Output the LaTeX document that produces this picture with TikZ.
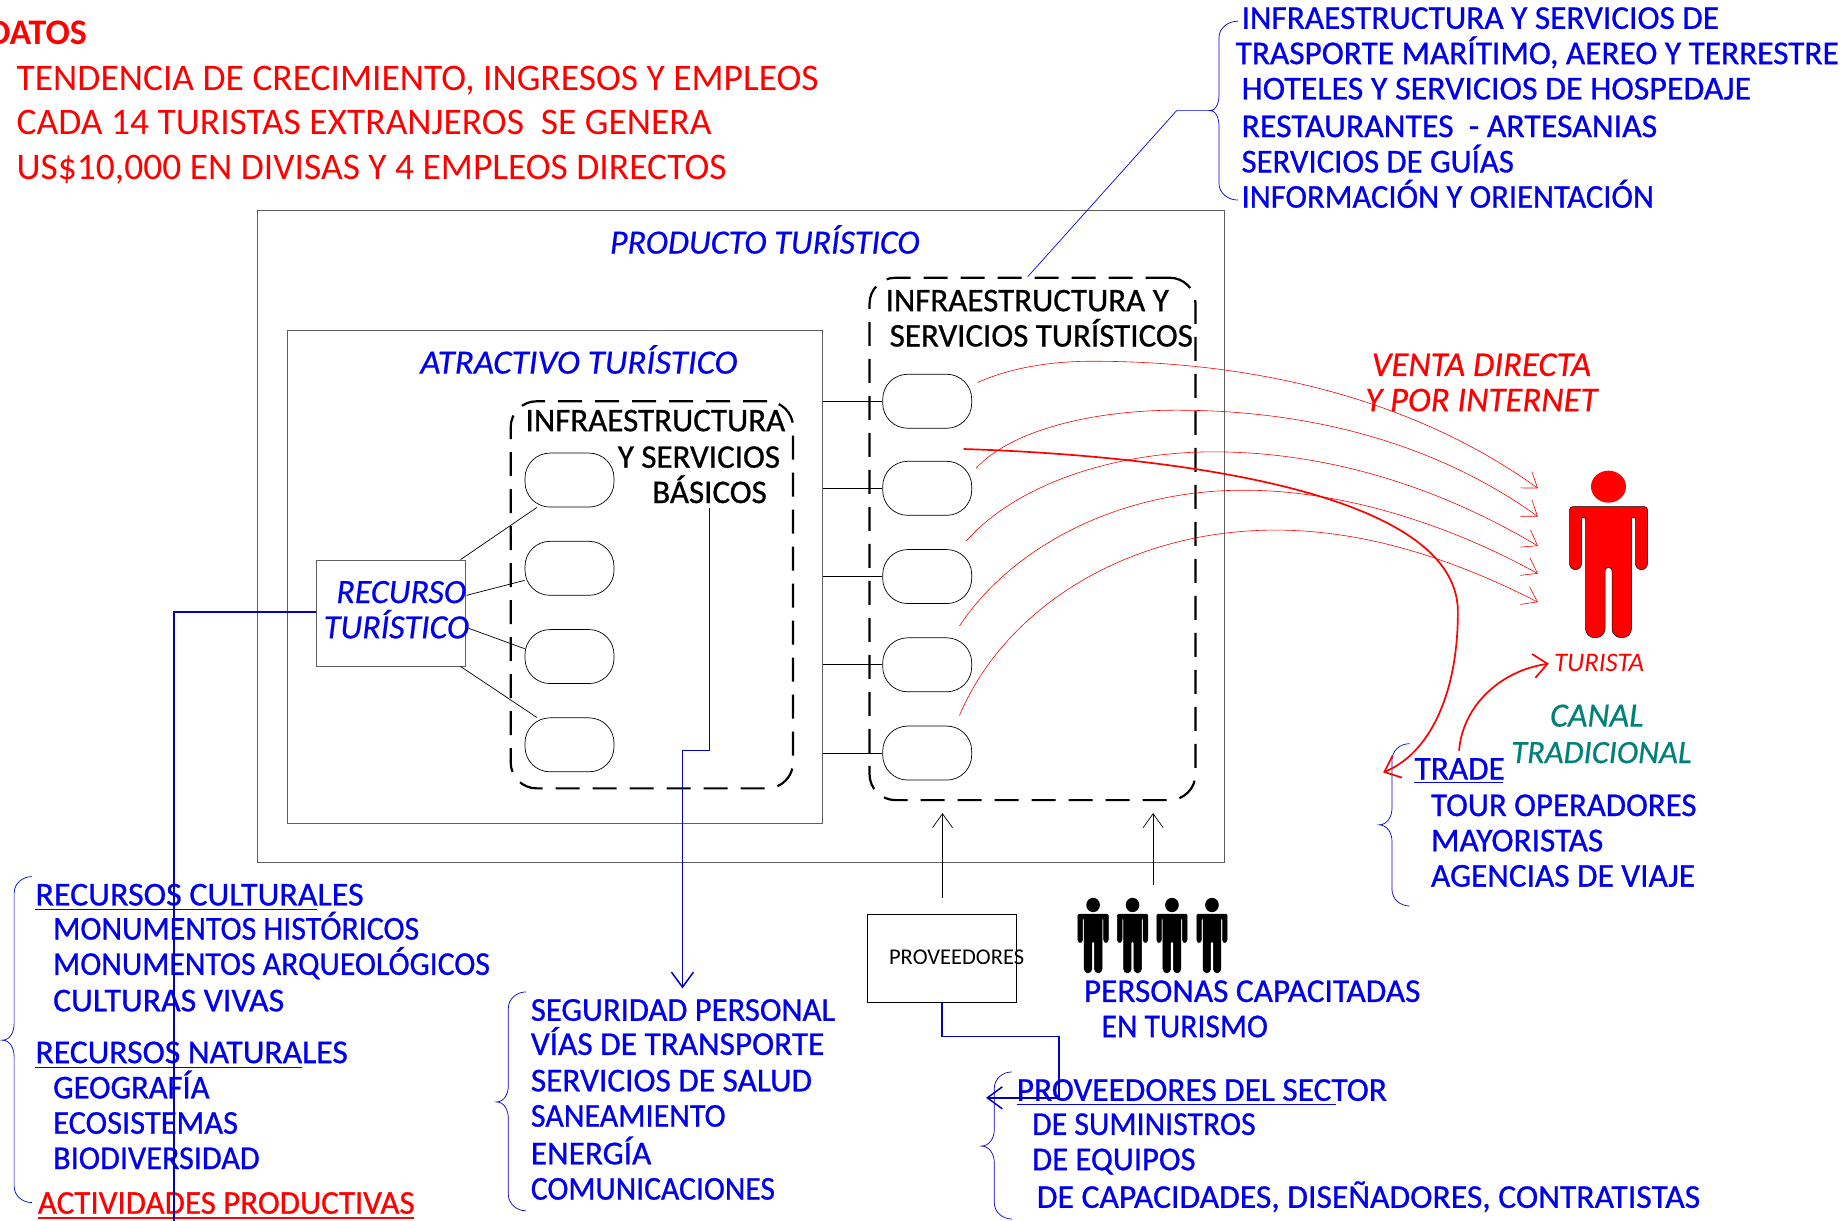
\documentclass[tikz,border=0pt]{standalone}
\usepackage{fontspec}
\setmainfont{Carlito}
\newfontfamily\bluefont[FakeBold=0.8]{Carlito}
\newfontfamily\ifont[FakeBold=0.5]{Carlito}
\usetikzlibrary{positioning}
\usetikzlibrary{arrows.meta}
\definecolor{bluetxt}{RGB}{0,0,235}
\definecolor{blueln}{RGB}{0,0,190}
\definecolor{tealtxt}{RGB}{0,128,120}
\definecolor{boxgray}{RGB}{95,95,95}
% list brace: end x, spine x, tip x, top y, tip y, bottom y
\newcommand{\listbrace}[6]{
\draw[bracket] (#1,#4) to[out=180,in=90] (#2,{#4+14}) -- (#2,{#5-14}) to[out=-90,in=0] (#3,#5)
  to[out=0,in=90] (#2,{#5+14}) -- (#2,{#6-14}) to[out=-90,in=180] (#1,#6);
}
\begin{document}
\begin{tikzpicture}[x=1.1767pt,y=-1.1767pt,
box/.style={rectangle,draw=boxgray,line width=0.9pt,inner sep=0pt},
dashbox/.style={rectangle,draw=black,line width=2.2pt,rounded corners=26pt,dash pattern=on 24pt off 13pt,inner sep=0pt},
pill/.style={rectangle,draw=black,line width=0.7pt,rounded corners=25pt,minimum width=89pt,minimum height=54pt,inner sep=0pt},
lab/.style={inner sep=0pt,text height=20pt,text depth=0pt,anchor=west},
sq/.style={xscale=#1,transform shape},
item/.style={lab,text=bluetxt,font=\bluefont\fontsize{33.3}{33.3}\selectfont},
headred/.style={lab,text=red,font=\fontsize{37.5}{37.5}\selectfont},
title/.style={lab,anchor=center,text=bluetxt,font=\ifont\fontsize{34}{34}\selectfont\itshape},
dark/.style={lab,anchor=center,text=black,font=\bluefont\fontsize{33}{33}\selectfont},
bracket/.style={draw=blue!85!black,line width=0.7pt},
blueline/.style={draw=blueln,line width=1.5pt},
under/.style={draw=bluetxt,line width=0.8pt},
open/.style={-{Straight Barb[length=15pt,width=22pt]}},
redcurve/.style={draw=red,line width=0.6pt,-{Straight Barb[length=14pt,width=20pt]}},
redthick/.style={draw=red,line width=1.7pt,-{Straight Barb[length=14pt,width=24pt]}},
pics/person/.style n args={2}{code={
  \fill[#1] (0,16) ellipse (17.5 and 16);
  \draw[fill=#1,draw=black,line width=0.5pt] [rounded corners=#2*3pt] (-39,36) -- (39,36)
    [rounded corners=#2*6pt] -- (39,99) -- (27,99)
    [rounded corners=#2*1pt] -- (27,47) -- (23,47)
    [rounded corners=#2*9pt] -- (23,167) -- (3.5,167)
    [rounded corners=#2*3pt] -- (3.5,97) -- (-3.5,97)
    [rounded corners=#2*9pt] -- (-3.5,167) -- (-23,167)
    [rounded corners=#2*1pt] -- (-23,47) -- (-27,47)
    [rounded corners=#2*6pt] -- (-27,99) -- (-39,99)
    [rounded corners=#2*3pt] -- cycle;
}}]
\useasboundingbox (0,0) rectangle (1568,1037.66);

% boxes
\node [box,minimum width=967.3pt,minimum height=651.9pt] (producto) at (630,456) {};
\node [box,minimum width=535.4pt,minimum height=493pt] (atractivo) at (471.5,490.5) {};
\node [box,minimum width=149.4pt,minimum height=105.9pt] (recurso) at (332.5,521) {};
\node [dashbox,minimum width=282.4pt,minimum height=387.1pt] (basicos) at (554,505.5) {};
\node [dashbox,minimum width=326pt,minimum height=522.4pt] (turisticos) at (877.5,458) {};
\node [box,draw=black,minimum width=149.4pt,minimum height=88.3pt] (proveedores) at (800.5,814.5) {};

\node [pill] (ba) at (484,408) {};
\node [pill] (bb) at (484,483) {};
\node [pill] (bc) at (484,558) {};
\node [pill] (bd) at (484,633) {};

\node [pill] (sa) at (788,341) {};
\node [pill] (sb) at (788,415) {};
\node [pill] (sc) at (788,490) {};
\node [pill] (sd) at (788,565) {};
\node [pill] (se) at (788,640) {};

% titles in the boxes
\node [title] (tproducto) at (650,207) {PRODUCTO TURÍSTICO};
\node [title,sq=1.03] (tatractivo) at (492,309) {ATRACTIVO TURÍSTICO};
\node [title] (trecursoa) at (341,504) {RECURSO};
\node [title] (trecursob) at (337,534) {TURÍSTICO};
\node [dark] (tbasa) at (557,358) {INFRAESTRUCTURA};
\node [dark] (tbasb) at (594,389) {Y SERVICIOS};
\node [dark] (tbasc) at (603,419) {BÁSICOS};
\node [dark] (ttura) at (873,256) {INFRAESTRUCTURA Y};
\node [dark] (tturb) at (885,286) {SERVICIOS TURÍSTICOS};
\node [lab,anchor=center,text height=14pt,font=\fontsize{22.5}{22.5}\selectfont] (tprov) at (813,814) {PROVEEDORES};

% top left
\node [headred,anchor=east,font=\bfseries\fontsize{36}{36}\selectfont] (datos) at (74,29) {DATOS};
\node [headred] (da) at (14,68) {TENDENCIA DE CRECIMIENTO, INGRESOS Y EMPLEOS};
\node [headred] (db) at (14,106) {CADA 14 TURISTAS EXTRANJEROS\ \ SE GENERA};
\node [headred] (dc) at (14,144) {US\$10,000 EN DIVISAS Y 4 EMPLEOS DIRECTOS};

% top right
\node [item] (ia) at (1055,16) {INFRAESTRUCTURA Y SERVICIOS DE};
\node [item] (ib) at (1050,46) {TRASPORTE MARÍTIMO, AEREO Y TERRESTRE};
\node [item,sq=1.018] (ic) at (1055,76) {HOTELES Y SERVICIOS DE HOSPEDAJE};
\node [item,sq=1.014] (id) at (1055,108) {RESTAURANTES\ \ - ARTESANIAS};
\node [item,sq=0.983] (ie) at (1055,138) {SERVICIOS DE GUÍAS};
\node [item,sq=0.977] (if) at (1055,168) {INFORMACIÓN Y ORIENTACIÓN};

% left list
\node [item,sq=1.02] (rc) at (30,761) {RECURSOS CULTURALES};
\node [item,sq=0.957] (rca) at (45,790) {MONUMENTOS HISTÓRICOS};
\node [item,sq=0.954] (rcb) at (45,820) {MONUMENTOS ARQUEOLÓGICOS};
\node [item,sq=1.015] (rcc) at (45,851) {CULTURAS VIVAS};
\node [item,sq=1.01] (rn) at (30,895) {RECURSOS NATURALES};
\node [item,sq=0.977] (rna) at (45,925) {GEOGRAFÍA};
\node [item,sq=0.975] (rnb) at (45,955) {ECOSISTEMAS};
\node [item,sq=0.967] (rnc) at (45,985) {BIODIVERSIDAD};
\node [item,text=red,sq=0.99] (ap) at (32,1023) {ACTIVIDADES PRODUCTIVAS};

% basic services list
\node [item,sq=0.98] (sva) at (451,859) {SEGURIDAD PERSONAL};
\node [item] (svb) at (451,888) {VÍAS DE TRANSPORTE};
\node [item] (svc) at (451,919) {SERVICIOS DE SALUD};
\node [item,sq=0.96] (svd) at (451,949) {SANEAMIENTO};
\node [item] (sve) at (451,981) {ENERGÍA};
\node [item,sq=0.95] (svf) at (451,1011) {COMUNICACIONES};

% suppliers list
\node [item] (pv) at (864,927) {PROVEEDORES DEL SECTOR};
\node [item,sq=0.955] (pva) at (877,956) {DE SUMINISTROS};
\node [item,sq=0.98] (pvb) at (877,986) {DE EQUIPOS};
\node [item,sq=1.01] (pvc) at (881,1018) {DE CAPACIDADES, DISEÑADORES, CONTRATISTAS};

\node [item] (pca) at (921,843) {PERSONAS CAPACITADAS};
\node [item,sq=0.95] (pcb) at (936,873) {EN TURISMO};

% trade list
\node [item] (trade) at (1202,654) {TRADE};
\node [item,sq=0.987] (tra) at (1216,685) {TOUR OPERADORES};
\node [item] (trb) at (1216,715) {MAYORISTAS};
\node [item] (trc) at (1216,745) {AGENCIAS DE VIAJE};

\node [title,text=tealtxt] (canal) at (1357,609) {CANAL};
\node [title,text=tealtxt,font=\ifont\fontsize{32.5}{32.5}\selectfont\itshape] (tradicional) at (1361,640) {TRADICIONAL};
\node [title,text=red,font=\ifont\fontsize{34.7}{34.7}\selectfont\itshape] (venta) at (1259,311) {VENTA DIRECTA};
\node [title,text=red,font=\ifont\fontsize{34.7}{34.7}\selectfont\itshape] (internet) at (1259,341) {Y POR INTERNET};
\node [title,text=red,text height=16pt,font=\fontsize{26.8}{26.8}\selectfont\itshape] (turista) at (1359,564) {TURISTA};

% underlines
\draw [under] (rc.west) ++(0,12) -- ++(239,0);
\draw [under] (rn.west) ++(0,12) -- ++(227,0);
\draw [under] (pv.west) ++(0,12) -- ++(271,0);
\draw [under] (trade.west) ++(0,11) -- ++(75,0);
\draw [draw=red,line width=1.6pt] (ap.west) ++(0,12) -- ++(320,0);

% braces
\listbrace{1052}{1036}{1028}{18}{94}{170}
\listbrace{27}{12}{2}{745}{884}{1022}
\listbrace{447}{432}{422}{843}{936.5}{1029}
\listbrace{860}{845}{834}{911}{974}{1036}
\listbrace{1198}{1183}{1172}{632}{701}{770}

% people
\path (1367,400) pic [x=1pt,y=-1pt] {person={red}{1}};
\path (929,763) pic [x=0.39pt,y=-0.45pt] {person={black}{0.45}};
\path (962.5,763) pic [x=0.39pt,y=-0.45pt] {person={black}{0.45}};
\path (996,763) pic [x=0.39pt,y=-0.45pt] {person={black}{0.45}};
\path (1030,763) pic [x=0.39pt,y=-0.45pt] {person={black}{0.45}};

% resource to basic services
\draw [line width=0.7pt] (recurso.north east) ++(-5,0) -- (ba.220);
\draw [line width=0.7pt] (recurso.east) ++(0,-15) -- (bb.195);
\draw [line width=0.7pt] (recurso.east) ++(2,13) -- (bc.170);
\draw [line width=0.7pt] (recurso.south east) ++(-5,0) -- (bd.140);

% box to the pills
\draw [line width=0.7pt] (atractivo.east |- sa.west) -- (sa.west);
\draw [line width=0.7pt] (atractivo.east |- sb.west) -- (sb.west);
\draw [line width=0.7pt] (atractivo.east |- sc.west) -- (sc.west);
\draw [line width=0.7pt] (atractivo.east |- sd.west) -- (sd.west);
\draw [line width=0.7pt] (atractivo.east |- se.west) -- (se.west);

% blue connectors
\coordinate (rbot) at (148,1040);
\coordinate (barrow) at (580,840);
\coordinate (parrow) at (838,933);
\coordinate (bend) at (1000,94);
\draw [blueline] (recurso.west |- 0,520) -| (rbot);
\draw [blueline,open] (tbasc.south) ++(0,4) |- (580,638) -- (barrow);
\draw [blueline,open] (proveedores.south) |- (900,881) |- (parrow);
\draw [draw=blue,line width=0.7pt] (turisticos.north) ++(-4,0) -- (bend) -- (1028,94);

% black arrows
\coordinate (ska) at (801,763);
\coordinate (skb) at (980,752);
\draw [line width=0.7pt,-{Straight Barb[length=14pt,width=20pt]}] (ska) -- (801,691);
\draw [line width=0.7pt,-{Straight Barb[length=14pt,width=20pt]}] (skb) -- (980,691);

% direct sale
\coordinate (va) at (831,325);
\coordinate (vb) at (829.5,398);
\coordinate (vc) at (821,460);
\coordinate (vd) at (815.4,532);
\coordinate (ve) at (815.4,608);
\draw [redcurve] (va) .. controls (860,312) and (895,307) .. (928,307) .. controls (1080,307) and (1210,345) .. (1307,415);
\draw [redcurve] (vb) .. controls (860,365) and (930,348.6) .. (1000,348.6) .. controls (1120,348.6) and (1225,380) .. (1307,439);
\draw [redcurve] (vc) .. controls (865,410) and (950,384) .. (1031,384) .. controls (1130,384) and (1225,415) .. (1307,464);
\draw [redcurve] (vd) .. controls (860,465) and (950,416.6) .. (1057,416.6) .. controls (1140,416.6) and (1230,445) .. (1307,487.5);
\draw [redcurve] (ve) .. controls (855,515) and (960,450.5) .. (1084,450.5) .. controls (1160,450.5) and (1235,475) .. (1307,511.7);

% trade channel
\coordinate (tstart) at (819,381.6);
\coordinate (tend) at (1175.5,656.5);
\coordinate (tup) at (1240,638);
\draw [redthick] (tstart) .. controls (960,386) and (1239,410) .. (1239,520) .. controls (1239,590) and (1215,640) .. (tend);
\draw [redthick] (tup) .. controls (1243,600) and (1275,570) .. ([xshift=-5pt]turista.west);
\end{tikzpicture}
\end{document}
